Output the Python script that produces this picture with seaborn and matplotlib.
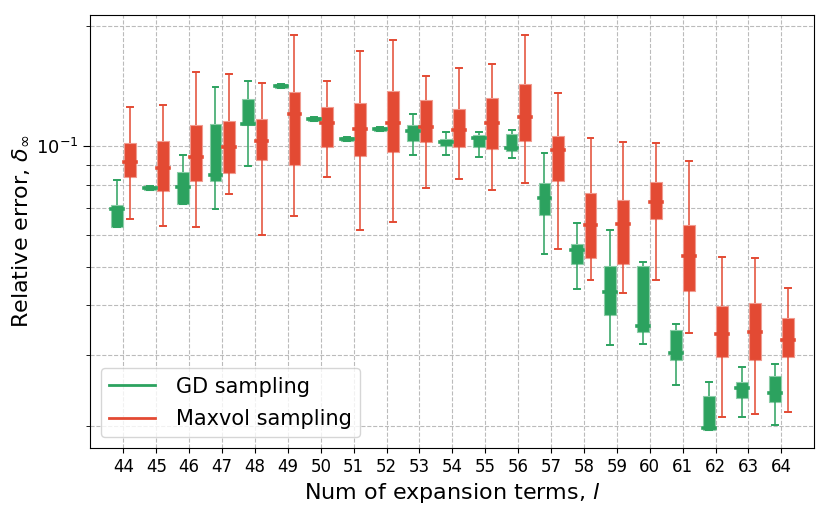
import numpy as np
import pandas as pd
import seaborn as sns
import matplotlib.pyplot as plt
from matplotlib.lines import Line2D
from matplotlib.ticker import NullFormatter, LogLocator
from matplotlib.colors import to_rgb

terms = list(range(44, 65))
methods = ['GD sampling', 'Maxvol sampling']

# five-number summaries (min, q1, median, q3, max)
gd_min = [0.0627, 0.0778, 0.0718, 0.0697, 0.0893, 0.1399, 0.1155, 0.1033, 0.1092, 0.0950, 0.0953,
          0.0940, 0.0935, 0.0537, 0.0439, 0.0318, 0.0321, 0.0253, 0.0195, 0.0211, 0.0201]
gd_q1 = [0.0627, 0.0778, 0.0718, 0.0818, 0.1129, 0.1399, 0.1155, 0.1033, 0.1092, 0.1031, 0.1000,
         0.0993, 0.0973, 0.0675, 0.0507, 0.0378, 0.0343, 0.0292, 0.0195, 0.0235, 0.0229]
gd_med = [0.0696, 0.0787, 0.0790, 0.0845, 0.1137, 0.1418, 0.1170, 0.1045, 0.1105, 0.1090, 0.1022,
          0.1049, 0.0989, 0.0743, 0.0550, 0.0431, 0.0356, 0.0304, 0.0197, 0.0249, 0.0242]
gd_q3 = [0.0711, 0.0797, 0.0863, 0.1137, 0.1311, 0.1434, 0.1184, 0.1057, 0.1118, 0.1127, 0.1041,
         0.1067, 0.1073, 0.0808, 0.0569, 0.0502, 0.0501, 0.0347, 0.0238, 0.0257, 0.0266]
gd_max = [0.0822, 0.0797, 0.0953, 0.1402, 0.1456, 0.1434, 0.1184, 0.1057, 0.1118, 0.1207, 0.1086,
          0.1088, 0.1096, 0.0964, 0.0642, 0.0618, 0.0515, 0.0360, 0.0257, 0.0280, 0.0285]

mv_min = [0.0656, 0.0632, 0.0627, 0.0760, 0.0599, 0.0670, 0.0838, 0.0616, 0.0647, 0.0784, 0.0826,
          0.0778, 0.0811, 0.0553, 0.0462, 0.0429, 0.0463, 0.0341, 0.0210, 0.0214, 0.0216]
mv_q1 = [0.0838, 0.0772, 0.0818, 0.0855, 0.0923, 0.0900, 0.0996, 0.0944, 0.0968, 0.1027, 0.0996,
         0.0983, 0.1029, 0.0819, 0.0526, 0.0508, 0.0657, 0.0434, 0.0297, 0.0292, 0.0297]
mv_med = [0.0914, 0.0883, 0.0940, 0.0993, 0.1031, 0.1204, 0.1146, 0.1101, 0.1144, 0.1118, 0.1095,
          0.1140, 0.1184, 0.0979, 0.0636, 0.0638, 0.0726, 0.0532, 0.0340, 0.0343, 0.0328]
mv_q3 = [0.1019, 0.1029, 0.1133, 0.1157, 0.1170, 0.1367, 0.1252, 0.1286, 0.1372, 0.1303, 0.1242,
         0.1318, 0.1431, 0.1059, 0.0766, 0.0733, 0.0813, 0.0635, 0.0398, 0.0405, 0.0373]
mv_max = [0.1254, 0.1266, 0.1537, 0.1511, 0.1439, 0.1895, 0.1456, 0.1731, 0.1844, 0.1499, 0.1573,
          0.1603, 0.1895, 0.1357, 0.1051, 0.1022, 0.1016, 0.0917, 0.0529, 0.0527, 0.0442]

green = '#2ca25f'
red = '#e34a33'

# 5 points per box -> quartiles fall exactly on the points, whiskers on min/max
rows = []
for m, stats in zip(methods, [(gd_min, gd_q1, gd_med, gd_q3, gd_max),
                              (mv_min, mv_q1, mv_med, mv_q3, mv_max)]):
    for i, l in enumerate(terms):
        for s in stats:
            rows.append({'l': l, 'method': m, 'err': s[i]})
df = pd.DataFrame(rows)

fig, ax = plt.subplots(figsize=(8.3, 5.16), dpi=100)
fig.subplots_adjust(left=0.109, right=0.981, top=0.970, bottom=0.132)

sns.boxplot(data=df, x='l', y='err', hue='method', hue_order=methods,
            palette=[green, red], whis=(0, 100), width=0.8, gap=0.1,
            saturation=1, legend=False, ax=ax,
            whiskerprops=dict(linewidth=1.1),
            capprops=dict(linewidth=1.4),
            medianprops=dict(linewidth=2.6, solid_capstyle='projecting'))
ax.set_yscale('log')

# colour whiskers / caps / medians by group
for ln in ax.lines:
    xd = np.asarray(ln.get_xdata(), dtype=float)
    if len(xd) == 0:
        continue
    c = xd.mean()
    ln.set_color(green if c - round(c) < 0 else red)
for p in ax.patches:
    fc = np.array(to_rgb(p.get_facecolor()[:3]))
    p.set_edgecolor(tuple(fc + (1 - fc) * 0.45))
    p.set_linewidth(0.8)

ax.set_xlim(-1, 21)
ax.set_ylim(0.01762, 0.2122)
ax.yaxis.set_minor_locator(LogLocator(base=10, subs=np.arange(2, 10)))
ax.yaxis.set_minor_formatter(NullFormatter())
ax.grid(True, which='both', axis='y', ls='--', color='#bbbbbb', lw=0.8)
ax.grid(True, which='major', axis='x', ls='--', color='#bbbbbb', lw=0.8)
ax.set_axisbelow(True)
ax.tick_params(axis='x', labelsize=12)
ax.tick_params(axis='y', which='major', labelsize=13, length=5)
ax.tick_params(axis='y', which='minor', length=3)

ax.set_xlabel('Num of expansion terms, $l$', fontsize=16)
ax.set_ylabel('Relative error, $\\delta_\\infty$', fontsize=16)

handles = [Line2D([0], [0], color=green, lw=2), Line2D([0], [0], color=red, lw=2)]
ax.legend(handles, methods, loc='lower left', fontsize=15, handlelength=2.2,
          handletextpad=1.0, labelspacing=0.6)

plt.savefig('out.png', dpi=100)
